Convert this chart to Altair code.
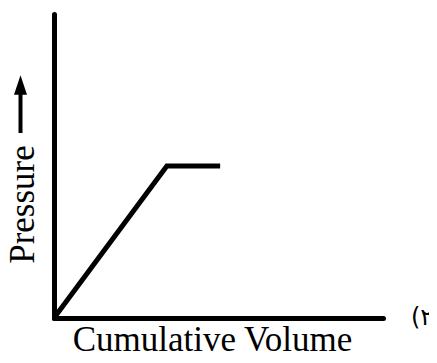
import altair as alt
import pandas as pd

volume = [0, 3.43, 5.05]
pressure = [0, 5.0, 5.0]
note_text = ["(۲"]
note_x = [10.85]
note_y = [0]

df = pd.DataFrame({"volume": volume, "pressure": pressure})
notes = pd.DataFrame({"x": note_x, "y": note_y, "t": note_text})

xs = alt.Scale(domain=[0, 10], nice=False, zero=False)
ys = alt.Scale(domain=[0, 10], nice=False, zero=False)

SERIF = "Times New Roman, Liberation Serif, serif"

line = alt.Chart(df).mark_line(color="black", strokeWidth=5, strokeCap="butt", strokeJoin="miter").encode(
    x=alt.X("volume:Q", scale=xs, title="Cumulative Volume",
            axis=alt.Axis(ticks=False, labels=False, grid=False, domainColor="black",
                          domainWidth=5, domainCap="round",
                          titleFont=SERIF, titleFontSize=35, titleFontWeight="normal",
                          titleColor="black", titlePadding=4, titleX=158)),
    y=alt.Y("pressure:Q", scale=ys, title="Pressure",
            axis=alt.Axis(ticks=False, labels=False, grid=False, domainColor="black",
                          domainWidth=5, domainCap="round",
                          titleFont=SERIF, titleFontSize=35, titleFontWeight="normal",
                          titleColor="black", titlePadding=14, titleY=190)),
)

# arrow next to the y-axis title (decoration)
shaft = alt.Chart(df).transform_filter("datum.volume == 0").mark_rule(
    color="black", strokeWidth=4, strokeCap="butt").encode(
    x=alt.value(-33.5), y=alt.value(80), y2=alt.value(119))
head = alt.Chart(df).transform_filter("datum.volume == 0").mark_point(
    shape="M-1,1.5L0,-1.5L1,1.5Z", size=169, filled=True, color="black",
    opacity=1, strokeWidth=0).encode(
    x=alt.value(-33.5), y=alt.value(71))

note = alt.Chart(notes).mark_text(align="left", baseline="middle", fontSize=24,
                                   font="DejaVu Sans", color="black", clip=False).encode(
    x=alt.X("x:Q", scale=xs),
    y=alt.Y("y:Q", scale=ys),
    text="t:N",
)

chart = alt.layer(line, shaft, head, note).properties(
    width=329, height=304,
    autosize=alt.AutoSizeParams(type="none"),
    padding={"left": 46, "top": 6, "right": 46, "bottom": 37},
).configure_view(stroke=None)

chart.save("out.html", embed_options={"renderer": "svg", "actions": False})
